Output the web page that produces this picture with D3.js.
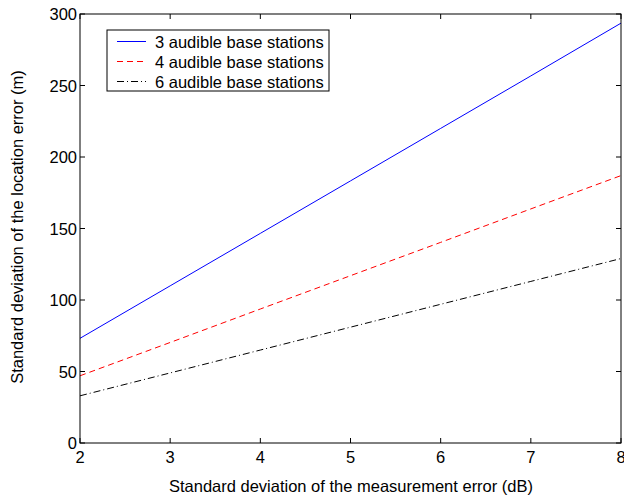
<!DOCTYPE html>
<html>
<head>
<meta charset="utf-8">
<script src="https://cdn.jsdelivr.net/npm/d3@7"></script>
<style>
  html, body { margin: 0; padding: 0; background: #fff; }
  svg { display: block; font-family: "Liberation Sans", Arial, sans-serif; }
</style>
</head>
<body>
<svg id="chart" width="624" height="497"></svg>
<script>
const xValues = [2, 3, 4, 5, 6, 7, 8];
const threeStations = [73.2, 109.9, 146.6, 183.3, 220.0, 256.7, 293.6];
const fourStations = [47.0, 70.3, 93.7, 117.0, 140.3, 163.7, 187.0];
const sixStations = [33.0, 49.0, 65.0, 81.0, 97.0, 113.0, 129.0];
const xTicks = [2, 3, 4, 5, 6, 7, 8];
const yTicks = [0, 50, 100, 150, 200, 250, 300];

const series = [
  { name: "3 audible base stations", values: threeStations, color: "#0000ff", dash: null },
  { name: "4 audible base stations", values: fourStations, color: "#ff0000", dash: "6,4" },
  { name: "6 audible base stations", values: sixStations, color: "#000000", dash: "7,3,1,3" },
];

const svg = d3.select("#chart");
const plotLeft = 80, plotRight = 621, plotTop = 14, plotBottom = 443;
const x = d3.scaleLinear().domain([2, 8]).range([plotLeft, plotRight]);
const y = d3.scaleLinear().domain([0, 300]).range([plotBottom, plotTop]);
const tickLen = 5;
const fontSize = 16.5;

// data lines
const line = d3.line().x((_, i) => x(xValues[i])).y((v) => y(v));
svg.selectAll("path.series").data(series).join("path").attr("class", "series")
  .attr("fill", "none").attr("stroke", (d) => d.color).attr("stroke-width", 1)
  .attr("stroke-dasharray", (d) => d.dash).attr("d", (d) => line(d.values));

// axes box with inward ticks
const g = svg.append("g").attr("stroke", "#000").attr("stroke-width", 1);
g.append("rect").attr("x", plotLeft).attr("y", plotTop)
  .attr("width", plotRight - plotLeft).attr("height", plotBottom - plotTop).attr("fill", "none");
for (const t of xTicks) {
  g.append("line").attr("x1", x(t)).attr("x2", x(t)).attr("y1", plotBottom).attr("y2", plotBottom - tickLen);
  g.append("line").attr("x1", x(t)).attr("x2", x(t)).attr("y1", plotTop).attr("y2", plotTop + tickLen);
}
for (const t of yTicks) {
  g.append("line").attr("x1", plotLeft).attr("x2", plotLeft + tickLen).attr("y1", y(t)).attr("y2", y(t));
  g.append("line").attr("x1", plotRight).attr("x2", plotRight - tickLen).attr("y1", y(t)).attr("y2", y(t));
}

// tick labels
svg.selectAll("text.xt").data(xTicks).join("text").attr("class", "xt")
  .attr("x", (d) => x(d)).attr("y", plotBottom + 20).attr("text-anchor", "middle")
  .attr("font-size", fontSize).text((d) => d);
svg.selectAll("text.yt").data(yTicks).join("text").attr("class", "yt")
  .attr("x", plotLeft - 3).attr("y", (d) => y(d) + 6).attr("text-anchor", "end")
  .attr("font-size", fontSize).text((d) => d);

// axis titles
svg.append("text").attr("x", 351).attr("y", 492).attr("text-anchor", "middle")
  .attr("font-size", fontSize).text("Standard deviation of the measurement error (dB)");
svg.append("text").attr("transform", `translate(23,227) rotate(-90)`)
  .attr("text-anchor", "middle").attr("font-size", fontSize)
  .text("Standard deviation of the location error (m)");

// legend
const legend = svg.append("g");
legend.append("rect").attr("x", 107).attr("y", 30).attr("width", 222).attr("height", 61)
  .attr("fill", "#fff").attr("stroke", "#000").attr("stroke-width", 1);
series.forEach((s, i) => {
  const ly = 41.5 + i * 20;
  legend.append("line").attr("x1", 117).attr("x2", 146).attr("y1", ly).attr("y2", ly)
    .attr("stroke", s.color).attr("stroke-width", 1).attr("stroke-dasharray", s.dash);
  legend.append("text").attr("x", 155).attr("y", ly + 6).attr("font-size", fontSize).text(s.name);
});
</script>
</body>
</html>
